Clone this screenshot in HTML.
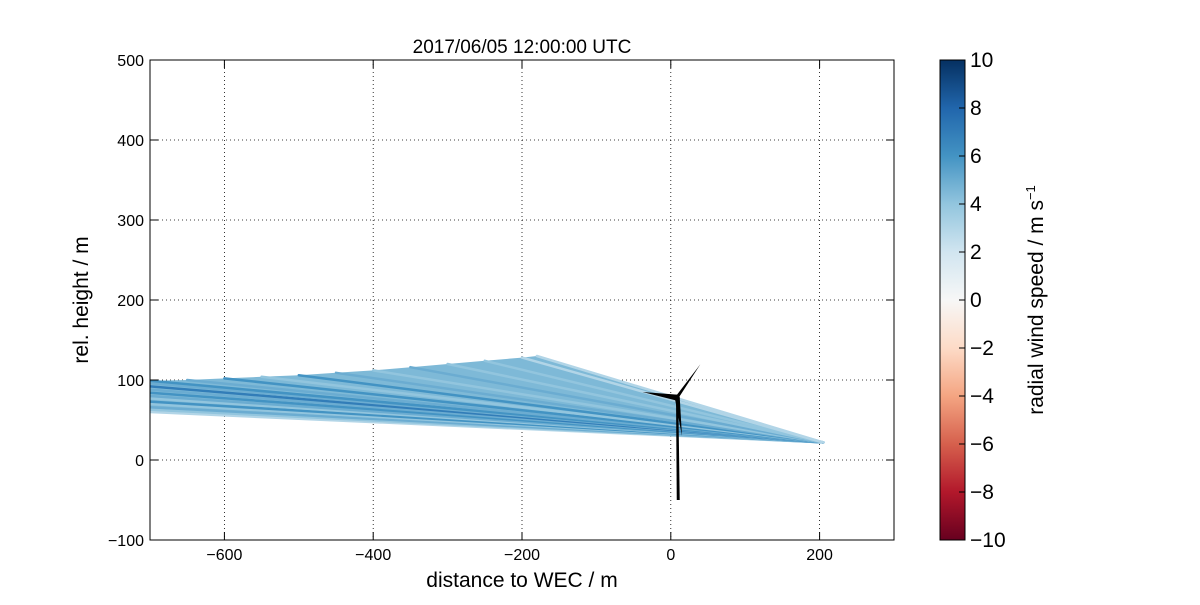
<!DOCTYPE html>
<html><head><meta charset="utf-8">
<style>
body{margin:0;background:#fff;}
svg text{font-family:"Liberation Sans",sans-serif;fill:#000;}
</style></head>
<body>
<svg id="chart" width="1200" height="600" xmlns="http://www.w3.org/2000/svg">
<defs>
<linearGradient id="rdbu" x1="0" y1="1" x2="0" y2="0">
<stop offset="0" stop-color="#67001f"/><stop offset="0.1" stop-color="#b2182b"/>
<stop offset="0.2" stop-color="#d6604d"/><stop offset="0.3" stop-color="#f4a582"/>
<stop offset="0.4" stop-color="#fddbc7"/><stop offset="0.5" stop-color="#f7f7f7"/>
<stop offset="0.6" stop-color="#d1e5f0"/><stop offset="0.7" stop-color="#92c5de"/>
<stop offset="0.8" stop-color="#4393c3"/><stop offset="0.9" stop-color="#2166ac"/>
<stop offset="1" stop-color="#053061"/>
</linearGradient>
<clipPath id="plotclip"><rect x="150" y="60" width="744" height="480"/></clipPath>
</defs>
<g id="grid"></g>
<g id="data" clip-path="url(#plotclip)"></g>
<g id="turbine"></g>
<rect x="150" y="60" width="744" height="480" fill="none" stroke="#000" stroke-width="1"/>
<g id="axes"></g>
<text x="522" y="53" font-size="19" text-anchor="middle">2017/06/05 12:00:00 UTC</text>
<text x="522" y="587" font-size="21" text-anchor="middle">distance to WEC / m</text>
<text transform="translate(88,300) rotate(-90)" font-size="21" text-anchor="middle">rel. height / m</text>
<rect x="940" y="60" width="25" height="480" fill="url(#rdbu)" stroke="#000" stroke-width="1"/>
<g id="cbaxis"></g>
<text transform="translate(1043,300) rotate(-90)" font-size="21" text-anchor="middle">radial wind speed / m s<tspan dy="-8" font-size="13">−1</tspan></text>
</svg>
<script>
const xTicks=[-600,-400,-200,0,200];
const yTicks=[-100,0,100,200,300,400,500];
const cbTicks=[-10,-8,-6,-4,-2,0,2,4,6,8,10];
const lidarX=205, lidarY=22;
const rayEndX=[-700,-700,-700,-700,-700,-700,-700,-700,-700,-700,-700,-700,-650,-600,-550,-500,-450,-400,-350,-300,-250,-200,-180];
const rayEndY=[60,63,66,70,73,77,80,84,88,92,96,99,100,102,104,106,109,112,116,120,124,128,130];
const rayValue=[3,4,5,4,6,4,5,6,5,7,5,6,5,6,4,6,5,4,5,4,4,3,3];
const NS="http://www.w3.org/2000/svg";
const X=v=>150+(v+700)*0.744, Y=v=>540-(v+100)*0.8, CB=v=>540-(v+10)*24;
const stops=[[-10,[103,0,31]],[-8,[178,24,43]],[-6,[214,96,77]],[-4,[244,165,130]],[-2,[253,219,199]],[0,[247,247,247]],[2,[209,229,240]],[4,[146,197,222]],[6,[67,147,195]],[8,[33,102,172]],[10,[5,48,97]]];
function col(v){v=Math.max(-10,Math.min(10,v));for(let i=0;i<stops.length-1;i++){const[a,ca]=stops[i],[b,cb]=stops[i+1];if(v<=b){const t=(v-a)/(b-a);return`rgb(${ca.map((c,k)=>Math.round(c+(cb[k]-c)*t)).join(',')})`;}}}
function mk(tag,attrs,parent){const e=document.createElementNS(NS,tag);for(const k in attrs)e.setAttribute(k,attrs[k]);document.getElementById(parent).appendChild(e);return e;}
xTicks.forEach(t=>{
 const g=mk('line',{x1:X(t),x2:X(t),y1:60,y2:540,stroke:'#000','stroke-dasharray':'1,3','stroke-width':0.8},'grid');
 
 mk('line',{x1:X(t),x2:X(t),y1:540,y2:532,stroke:'#000'},'axes');
 mk('line',{x1:X(t),x2:X(t),y1:60,y2:68,stroke:'#000'},'axes');
 const l=mk('text',{x:X(t),y:560,'font-size':16,'text-anchor':'middle'},'axes');l.textContent=t<0?'−'+(-t):t;
 
});
yTicks.forEach(t=>{
 const g=mk('line',{x1:150,x2:894,y1:Y(t),y2:Y(t),stroke:'#000','stroke-dasharray':'1,3','stroke-width':0.8},'grid');
 
 mk('line',{x1:150,x2:158,y1:Y(t),y2:Y(t),stroke:'#000'},'axes');
 mk('line',{x1:894,x2:886,y1:Y(t),y2:Y(t),stroke:'#000'},'axes');
 const l=mk('text',{x:144,y:Y(t)+6,'font-size':16,'text-anchor':'end'},'axes');l.textContent=t<0?'−'+(-t):t;
 
});
cbTicks.forEach(t=>{
 mk('line',{x1:965,x2:959,y1:CB(t),y2:CB(t),stroke:'#000'},'cbaxis');
 const l=mk('text',{x:970,y:CB(t)+7,'font-size':21},'cbaxis');l.textContent=t<0?'−'+(-t):t;
 
});
let pts=`${X(lidarX)},${Y(lidarY)} `+rayEndX.map((x,i)=>`${X(x)},${Y(rayEndY[i])}`).join(' ');
const poly=mk('polygon',{points:pts,fill:col(4.5)},'data');

rayEndX.forEach((x,i)=>{
 const r=mk('line',{x1:X(lidarX),y1:Y(lidarY),x2:X(x),y2:Y(rayEndY[i]),stroke:col(rayValue[i]),'stroke-width':2.5,'stroke-linecap':'round'},'data');
 
});
const hx=X(8),hy=Y(78);
mk('polygon',{points:`${X(7)},${hy} ${X(10)},${hy} ${X(12)},${Y(-50)} ${X(8)},${Y(-50)}`,fill:'#000'},'turbine');
mk('polygon',{points:`${hx},${hy-3} ${X(-38)},${Y(85)} ${hx},${hy+3}`,fill:'#000'},'turbine');
mk('polygon',{points:`${hx-2},${hy} ${X(40)},${Y(120)} ${hx+2},${hy}`,fill:'#000'},'turbine');
mk('polygon',{points:`${hx-2},${hy} ${X(15)},${Y(30)} ${hx+3},${hy}`,fill:'#000'},'turbine');
mk('circle',{cx:hx,cy:hy,r:3,fill:'#000'},'turbine');
</script>
</body></html>
